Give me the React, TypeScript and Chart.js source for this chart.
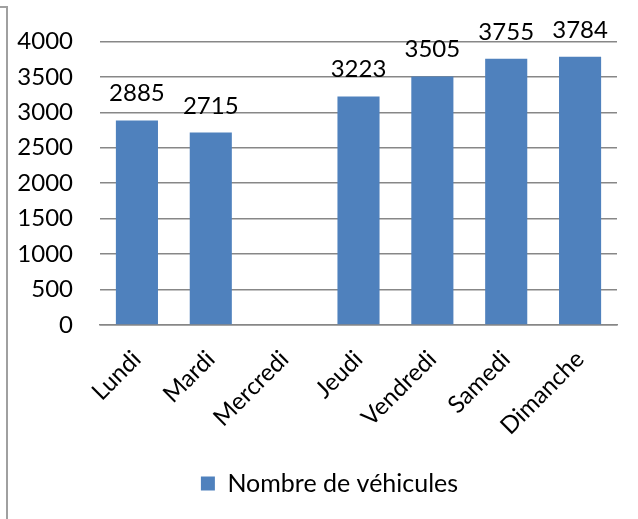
import React, { useEffect, useRef } from "react";
import { Chart, registerables } from "chart.js";

Chart.register(...registerables);

const categories = ["Lundi", "Mardi", "Mercredi", "Jeudi", "Vendredi", "Samedi", "Dimanche"];
const vehicles: (number | null)[] = [2885, 2715, null, 3223, 3505, 3755, 3784];
const seriesName = "Nombre de véhicules";
const yMin = 0;
const yMax = 4000;
const yStep = 500;

const FONT = "Lato, 'Open Sans', sans-serif";
const FS = 24;
const BLUE = "#4F81BD";
const GRID = "#878787";

const valueLabels = {
  id: "valueLabels",
  afterDatasetsDraw(chart: any) {
    const ctx = chart.ctx;
    const meta = chart.getDatasetMeta(0);
    const data = chart.data.datasets[0].data;
    ctx.save();
    ctx.font = `${FS}px ${FONT}`;
    ctx.fillStyle = "#000";
    ctx.textAlign = "center";
    ctx.textBaseline = "alphabetic";
    meta.data.forEach((bar: any, i: number) => {
      const v = data[i];
      if (v === null || v === undefined) return;
      ctx.fillText(String(v), bar.x, bar.y - 19);
    });
    ctx.restore();
  },
};

const legendShift = {
  id: "legendShift",
  afterLayout(chart: any) {
    if (chart.legend) {
      chart.legend.left += 42;
    }
  },
};

export default function App() {
  const ref = useRef<HTMLCanvasElement | null>(null);
  useEffect(() => {
    if (!ref.current) return;
    const chart = new Chart(ref.current, {
      type: "bar",
      data: {
        labels: categories,
        datasets: [
          {
            label: seriesName,
            data: vehicles,
            backgroundColor: BLUE,
            borderWidth: 0,
            barPercentage: 0.57,
            categoryPercentage: 1,
          },
        ],
      },
      options: {
        responsive: false,
        animation: false,
        layout: { padding: { top: 34, right: 21, bottom: 13, left: 0 } },
        plugins: {
          tooltip: { enabled: false },
          legend: {
            position: "bottom",
            labels: {
              font: { family: FONT, size: 25 },
              color: "#000",
              boxWidth: 14,
              boxHeight: 14,
              padding: 10,
            },
          },
        },
        scales: {
          x: {
            grid: { display: false, drawTicks: false },
            border: { display: true, color: GRID, width: 1.5 },
            ticks: {
              font: { family: FONT, size: FS },
              color: "#000",
              minRotation: 45,
              maxRotation: 45,
              padding: 20,
            },
            afterFit(scale: any) {
              scale.height = 136;
            },
          },
          y: {
            min: yMin,
            max: yMax,
            grid: { color: GRID, lineWidth: 1.5, drawTicks: false },
            border: { display: false },
            ticks: {
              stepSize: yStep,
              font: { family: FONT, size: FS },
              color: "#000",
              padding: 27,
              callback: (v: any) => String(v),
            },
            afterFit(scale: any) {
              scale.width = 100;
            },
          },
        },
      },
      plugins: [valueLabels, legendShift],
    });
    return () => chart.destroy();
  }, []);
  return (
    <div style={{ position: "absolute", left: 0, top: 0, width: 638, height: 519, background: "#fff", overflow: "hidden" }}>
      <div style={{ position: "absolute", left: 0, top: 6, width: 8, height: 2, background: "#a0a0a0" }} />
      <div style={{ position: "absolute", left: 6, top: 6, width: 2, height: 513, background: "#a0a0a0" }} />
      <canvas ref={ref} width={638} height={519} style={{ position: "absolute", left: 0, top: 0 }} />
    </div>
  );
}
